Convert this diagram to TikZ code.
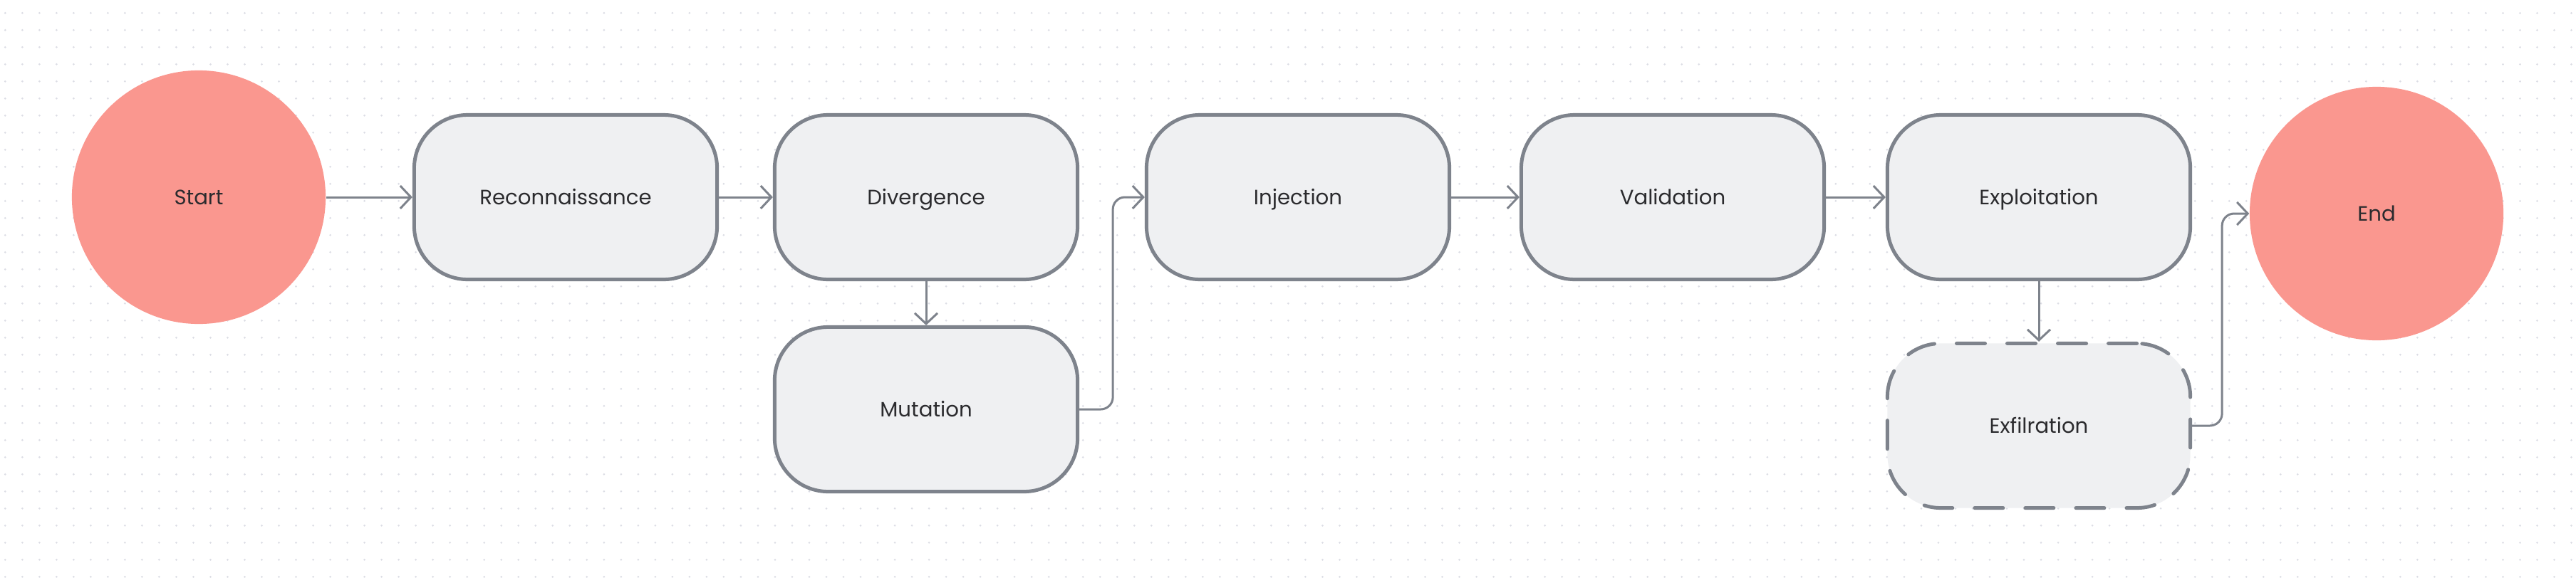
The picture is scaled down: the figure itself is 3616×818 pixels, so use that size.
\documentclass[tikz,border=0pt]{standalone}
\usepackage{fontspec}
\setmainfont{Poppins}
\usetikzlibrary{arrows.meta}
\definecolor{salmon}{HTML}{FA978F}
\definecolor{boxfill}{HTML}{EFF0F2}
\definecolor{edge}{HTML}{7E838C}
\definecolor{ink}{HTML}{2B2B2E}
\definecolor{griddot}{HTML}{DCDDE5}
\begin{document}
\begin{tikzpicture}[x=0.01cm,y=-0.01cm,
	label font/.style={text=ink,font=\fontsize{8.3}{10}\selectfont,text height=5.8pt,text depth=0pt},
	box/.style={draw=edge,fill=boxfill,line width=0.05cm,rounded corners=0.75cm,
		minimum width=4.25cm,minimum height=2.31cm,label font},
	term/.style={circle,fill=salmon,minimum size=3.56cm,inner sep=0,label font},
	link/.style={draw=edge,line width=0.03cm,rounded corners=0.17cm,
		-{Straight Barb[length=0.15cm,width=0.32cm]}},
	dotline/.style={griddot,line width=0.03cm,line cap=round,dash pattern=on 0pt off 0.24cm}]
	\useasboundingbox (0,0) rectangle (3616,818);
	\fill [white] (0,0) rectangle (3616,818);
	\foreach \y in {0,...,33}
		\draw [dotline] (7.3,{18.3+24*\y}) -- (3616,{18.3+24*\y});
	
	\node [term] at (279,277) (start) {Start};
	\node [term] at (3336,300) (end) {End};
	\foreach [count=\n] \t/\x in {Reconnaissance/794,Divergence/1300,Injection/1822,Validation/2348,Exploitation/2862}{
		\node [box] at (\x,277) (box \n) {\t};
	}
	\node [box] at (1300,575) (box 6) {Mutation};
	\node [box,dash pattern=on 0.4cm off 0.31cm,line cap=round] at (2862,598) (box 7) {Exfilration};
	
	\draw [link] (start) to (box 1);
	\draw [link] (box 1) to (box 2);
	\draw [link] (box 2) to (box 6);
	\draw [link] (box 6.east) -- ++(47,0) |- (box 3.west);
	
	\draw [link] (box 3) to (box 4);
	\draw [link] (box 4) to (box 5);
	\draw [link] (box 5) to (box 7);
	\draw [link] (box 7.east) -- ++(42,0) |- (end.west);
	
\end{tikzpicture}
\end{document}
